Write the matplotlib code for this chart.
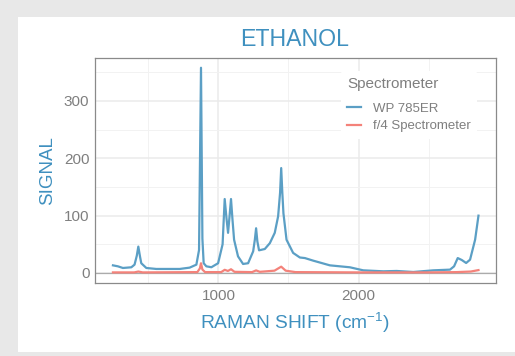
import matplotlib
matplotlib.use('Agg')
import matplotlib.pyplot as plt
from matplotlib.patches import Rectangle
from matplotlib.ticker import MultipleLocator

plt.rcParams['font.family'] = ['Liberation Sans', 'DejaVu Sans']
plt.rcParams['mathtext.fontset'] = 'custom'
plt.rcParams['mathtext.rm'] = 'Liberation Sans'
plt.rcParams['mathtext.it'] = 'Liberation Sans'

# Raman shift (cm-1) and signal
wp_shift = [248, 283, 319, 379, 402, 418, 429, 440, 450, 486, 557, 724, 795, 843,
            862, 876, 886, 895, 914, 950, 998, 1030, 1045, 1058, 1069, 1080, 1090,
            1100, 1112, 1140, 1176, 1212, 1248, 1260, 1269, 1278, 1290, 1331, 1367,
            1402, 1426, 1440, 1448, 1456, 1464, 1486, 1533, 1581, 1617, 1676, 1795,
            1938, 2033, 2176, 2271, 2390, 2533, 2652, 2681, 2707, 2736, 2767, 2795,
            2831, 2855]
wp_signal = [13.3, 11.6, 8.7, 9.9, 14.5, 30, 46, 30, 17, 8.7, 7, 7, 9.3, 14.5,
             40, 358, 60, 17, 11.6, 10, 17, 50, 129, 95, 70, 100, 129,
             95, 58, 29, 15.7, 17, 37.7, 58, 78, 55, 39.5, 41.8, 52,
             70, 98.7, 140, 183, 140, 104, 58, 35, 27, 26, 21.5, 13.3,
             9.9, 4.6, 2.9, 3.5, 1.7, 4.6, 5.8, 11.6, 26, 22.6, 17.4, 23.2,
             58, 100]

f4_shift = [248, 400, 429, 460, 850, 868, 876, 886, 905, 1020, 1045, 1068, 1090,
            1115, 1240, 1269, 1295, 1400, 1448, 1480, 1550, 2000, 2500, 2700, 2800,
            2855]
f4_signal = [1, 1, 2.5, 1, 1.5, 8, 17, 6, 1.5, 1.5, 5.5, 3.5, 6.5, 2, 1.5, 4.5,
             2, 4, 11, 4, 1.5, 1, 1, 1.5, 2.5, 5]

blue = '#5b9fc5'
red = '#f4827a'
label_blue = '#3f90bf'
grey_txt = '#7f7f7f'

fig = plt.figure(figsize=(5.15, 3.56), dpi=100)
fig.patch.set_facecolor('#e8e8e8')
fig.patches.append(Rectangle((18/515, 4/356), 1 - 18/515, 335/356,
                             transform=fig.transFigure, facecolor='white',
                             edgecolor='none', zorder=-10))

ax = fig.add_axes([95/515, 73/356, 401/515, 225/356])
ax.plot(wp_shift, wp_signal, color=blue, lw=1.6, label='WP 785ER', zorder=3)
ax.plot(f4_shift, f4_signal, color=red, lw=1.6, label='f/4 Spectrometer', zorder=3)
ax.axhline(0, color='#ababab', lw=0.9, zorder=2)

ax.set_xlim(120, 2980)
ax.set_ylim(-17.5, 375)
ax.xaxis.set_major_locator(MultipleLocator(1000))
ax.xaxis.set_minor_locator(MultipleLocator(500))
ax.yaxis.set_major_locator(MultipleLocator(100))
ax.yaxis.set_minor_locator(MultipleLocator(50))
ax.grid(which='major', color='#ebebeb', lw=1.1, zorder=0)
ax.grid(which='minor', color='#f2f2f2', lw=0.7, zorder=0)
ax.set_axisbelow(True)
ax.tick_params(which='both', length=0, labelsize=11, labelcolor=grey_txt, pad=4)
for s in ax.spines.values():
    s.set_color('#8a8a8a')
    s.set_linewidth(0.9)

ax.set_xlabel(r'RAMAN SHIFT (cm$^{\mathregular{-1}}$)', color=label_blue,
              fontsize=13.8, labelpad=6)
ax.set_ylabel('SIGNAL', color=label_blue, fontsize=13.5, labelpad=6)
fig.text(295/515, 1 - 40/356, 'ETHANOL', color=label_blue, fontsize=16.7,
         ha='center', va='center')

leg = ax.legend(title='Spectrometer', loc='upper right', bbox_to_anchor=(0.97, 0.972),
                frameon=True, fontsize=9.5, title_fontsize=11, handlelength=1.05,
                handletextpad=0.9, labelspacing=0.4, borderpad=0.5)
leg.get_frame().set_facecolor('white')
leg.get_frame().set_edgecolor('none')
leg.get_frame().set_alpha(1)
leg._legend_box.align = 'left'
leg._legend_box.sep = 8
leg.get_title().set_color(grey_txt)
for t in leg.get_texts():
    t.set_color(grey_txt)

fig.savefig('out.png', dpi=100)
